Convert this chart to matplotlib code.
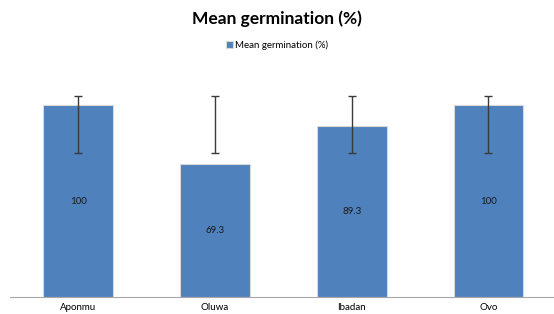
import numpy as np
import matplotlib.pyplot as plt

## the data
sites = ['Aponmu', 'Oluwa', 'Ibadan', 'Ovo']
germination = [100, 69.3, 89.3, 100]
err_low = [75, 75, 75, 75]        # error bar ends as drawn in the chart
err_high = [104.7, 104.7, 104.7, 104.7]

plt.rcParams['font.family'] = ['Lato', 'DejaVu Sans']

fig = plt.figure(figsize=(5.54, 3.14), dpi=100)
ax = fig.add_axes([10/554, 17/314, 1 - 10/554, 211/314])

ind = np.arange(len(sites))
width = 0.51

bars = ax.bar(ind, germination, width, color='#4F81BD',
              edgecolor='#D9D9D9', linewidth=0.8,
              label='Mean germination (%)', zorder=2)

mid = (np.array(err_low) + np.array(err_high)) / 2
half = (np.array(err_high) - np.array(err_low)) / 2
ax.errorbar(ind, mid, yerr=half, fmt='none', ecolor='#3A3A3A',
            elinewidth=1.0, capsize=3, capthick=1.0, zorder=3)

# value labels in the middle of each bar
for x, v in zip(ind, germination):
    ax.text(x, v / 2, f'{v:g}', ha='center', va='center',
            fontsize=7, color='#1a1a1a')

ax.set_xlim(-0.5, 3.48)
ax.set_ylim(0, 110)
ax.set_xticks(ind)
ax.set_xticklabels(sites, fontsize=7)
ax.tick_params(axis='x', length=0, pad=4)
ax.set_yticks([])
for s in ['top', 'right', 'left']:
    ax.spines[s].set_visible(False)
ax.spines['bottom'].set_color('#A6A6A6')

fig.text(0.5, 0.94, 'Mean germination (%)', ha='center', va='center',
         fontsize=12.5, fontweight='bold')
fig.legend(loc='center', bbox_to_anchor=(0.5, 0.855), frameon=False,
           fontsize=7, handlelength=0.7, handleheight=0.7,
           handletextpad=0.2)

fig.savefig('out.png', dpi=100)
